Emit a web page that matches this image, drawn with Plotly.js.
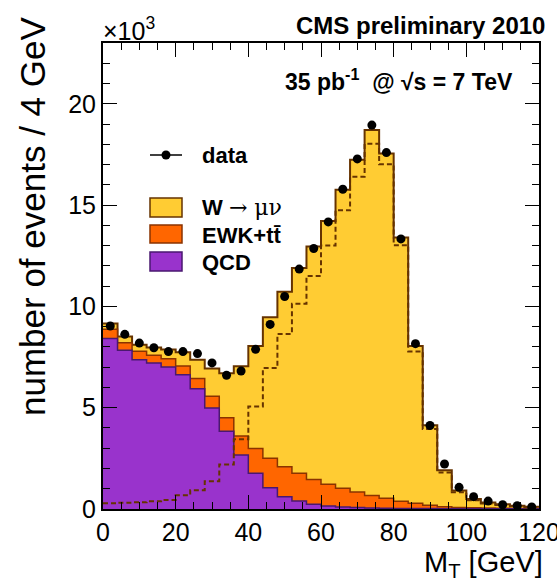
<!DOCTYPE html>
<html>
<head>
<meta charset="utf-8">
<script src="https://cdn.plot.ly/plotly-3.0.1.min.js"></script>
<style>html,body{margin:0;padding:0;background:#fff;}</style>
</head>
<body>
<div id="chart" style="width:557px;height:584px;"></div>
<script>
// Bin edges of the M_T histogram [GeV]
const mtEdges = [0,4,8,12,16,20,24,28,32,36,40,44,48,52,56,60,64,68,72,76,80,84,88,92,96,100,104,108,112,116,120];
// Event counts per 4 GeV bin, in units of 10^3
const qcd   = [8.41,7.83,7.37,7.21,7.01,6.63,5.94,4.99,3.84,2.66,1.76,1.05,0.61,0.39,0.23,0.15,0.10,0.07,0.05,0.04,0.03,0.02,0.02,0.01,0.01,0.01,0.01,0.01,0.01,0.01];
const ewk   = [0.46,0.38,0.41,0.38,0.41,0.43,0.50,0.58,0.66,0.94,1.23,1.45,1.47,1.37,1.23,1.07,0.92,0.77,0.62,0.49,0.35,0.26,0.16,0.10,0.07,0.05,0.04,0.03,0.02,0.02];
const wmunu = [0.28,0.31,0.33,0.38,0.45,0.68,0.93,1.37,2.20,3.44,5.06,6.96,8.64,10.13,11.50,13.00,14.74,16.40,18.03,17.02,13.02,7.77,3.95,1.80,0.83,0.43,0.27,0.20,0.13,0.08];
const dataPts = [9.03,8.62,8.19,7.96,7.77,7.77,7.67,7.21,6.60,6.81,7.88,9.11,10.49,11.84,12.86,14.17,15.78,17.28,18.95,17.59,13.33,8.16,4.12,2.22,1.07,0.61,0.39,0.21,0.16,0.10];
const xTicks = [0,20,40,60,80,100,120];
const yTicks = [0,5,10,15,20];

// helpers
const stepY = v => v.concat([v[v.length-1]]);
const qcdEwk = qcd.map((v,i) => v + ewk[i]);
const total = qcdEwk.map((v,i) => v + wmunu[i]);
const centers = dataPts.map((_,i) => (mtEdges[i] + mtEdges[i+1]) / 2);

const YEL = '#ffcc33', ORA = '#ff6600', PUR = '#9933cc';
const BROWN = '#663300';

const traces = [
  {x: mtEdges, y: stepY(total), type: 'scatter', mode: 'lines', fill: 'tozeroy',
   fillcolor: YEL, line: {shape: 'hv', color: BROWN, width: 2}, name: 'W', showlegend: false, hoverinfo: 'skip'},
  {x: mtEdges, y: stepY(qcdEwk), type: 'scatter', mode: 'lines', fill: 'tozeroy',
   fillcolor: ORA, line: {shape: 'hv', color: '#8a3300', width: 1.5}, name: 'EWK', showlegend: false, hoverinfo: 'skip'},
  {x: mtEdges, y: stepY(qcd), type: 'scatter', mode: 'lines', fill: 'tozeroy',
   fillcolor: PUR, line: {shape: 'hv', color: '#4a1870', width: 1.5}, name: 'QCD', showlegend: false, hoverinfo: 'skip'},
  {x: mtEdges, y: stepY(wmunu), type: 'scatter', mode: 'lines',
   line: {shape: 'hv', color: BROWN, width: 2, dash: '5px,3px'}, name: 'W only', showlegend: false, hoverinfo: 'skip'},
  {x: centers, y: dataPts, type: 'scatter', mode: 'markers',
   marker: {color: '#000', size: 9}, name: 'data', showlegend: false}
];

const FONT = 'Liberation Sans, Arial, Helvetica, sans-serif';
const px = X => (X - 103) / 436;
const py = Y => (509 - Y) / 466;

const annotations = [
  {text: '×10<sup>3</sup>', x: px(101), y: py(29), xanchor: 'left', yanchor: 'middle', font: {size: 25}},
  {text: '<b>CMS preliminary 2010</b>', x: px(547), y: py(25), xanchor: 'right', yanchor: 'middle', font: {size: 24}},
  {text: '<b>35 pb<sup>-1</sup>  @ √s = 7 TeV</b>', x: px(515), y: py(80), xanchor: 'right', yanchor: 'middle', font: {size: 23}},
  {text: '<b>data</b>', x: px(200), y: py(155), xanchor: 'left', yanchor: 'middle', font: {size: 22}},
  {text: '<b>W</b> <span style="font-family:DejaVu Serif">→ μν</span>', x: px(200), y: py(207), xanchor: 'left', yanchor: 'middle', font: {size: 22}},
  {text: '<b>EWK+tt\u0304</b>', x: px(200), y: py(235), xanchor: 'left', yanchor: 'middle', font: {size: 22}},
  {text: '<b>QCD</b>', x: px(200), y: py(262), xanchor: 'left', yanchor: 'middle', font: {size: 22}},
  {text: 'number of events / 4 GeV', x: px(32), y: py(217), xanchor: 'center', yanchor: 'middle', textangle: -90, font: {size: 35}},
  {text: 'M<sub>T</sub> [GeV]', x: px(545), y: py(564), xanchor: 'right', yanchor: 'middle', font: {size: 29}}
].map(a => Object.assign({xref: 'paper', yref: 'paper', showarrow: false}, a, {font: Object.assign({family: FONT, color: '#000'}, a.font)}));

const box = (y0, y1, fill, line) => ({type: 'rect', xref: 'paper', yref: 'paper',
  x0: px(150), x1: px(182), y0: py(y1), y1: py(y0), fillcolor: fill, line: {color: line, width: 1.5}});

const shapes = [
  {type: 'line', xref: 'paper', yref: 'paper', x0: px(150), x1: px(182), y0: py(155), y1: py(155), line: {color: '#000', width: 1.5}},
  {type: 'circle', xref: 'paper', yref: 'paper', xsizemode: 'pixel', ysizemode: 'pixel', xanchor: px(166), yanchor: py(155),
   x0: -4.5, x1: 4.5, y0: -4.5, y1: 4.5, fillcolor: '#000', line: {color: '#000', width: 0}},
  box(198, 217, YEL, BROWN),
  box(225, 243, ORA, '#8a3300'),
  box(252, 271, PUR, '#4a1870')
];

const axisCommon = {
  showgrid: false, zeroline: false, showline: true, linecolor: '#000', linewidth: 2, mirror: 'ticks',
  ticks: 'inside', ticklen: 14, tickwidth: 1, tickcolor: '#000', ticklabeloverflow: 'allow',
  tickfont: {family: FONT, size: 25, color: '#000'}
};

const layout = {
  width: 557, height: 584,
  margin: {l: 103, r: 18, t: 43, b: 75},
  paper_bgcolor: '#fff', plot_bgcolor: '#fff',
  showlegend: false,
  xaxis: Object.assign({}, axisCommon, {range: [0, 120], tickvals: xTicks,
    minor: {dtick: 5, ticklen: 7, ticks: 'inside', tickcolor: '#000', tickwidth: 1}}),
  yaxis: Object.assign({}, axisCommon, {range: [0, 23], tickvals: yTicks,
    minor: {dtick: 1, ticklen: 7, ticks: 'inside', tickcolor: '#000', tickwidth: 1}}),
  annotations: annotations,
  shapes: shapes
};

Plotly.newPlot('chart', traces, layout, {displayModeBar: false, staticPlot: true});
</script>
</body>
</html>
